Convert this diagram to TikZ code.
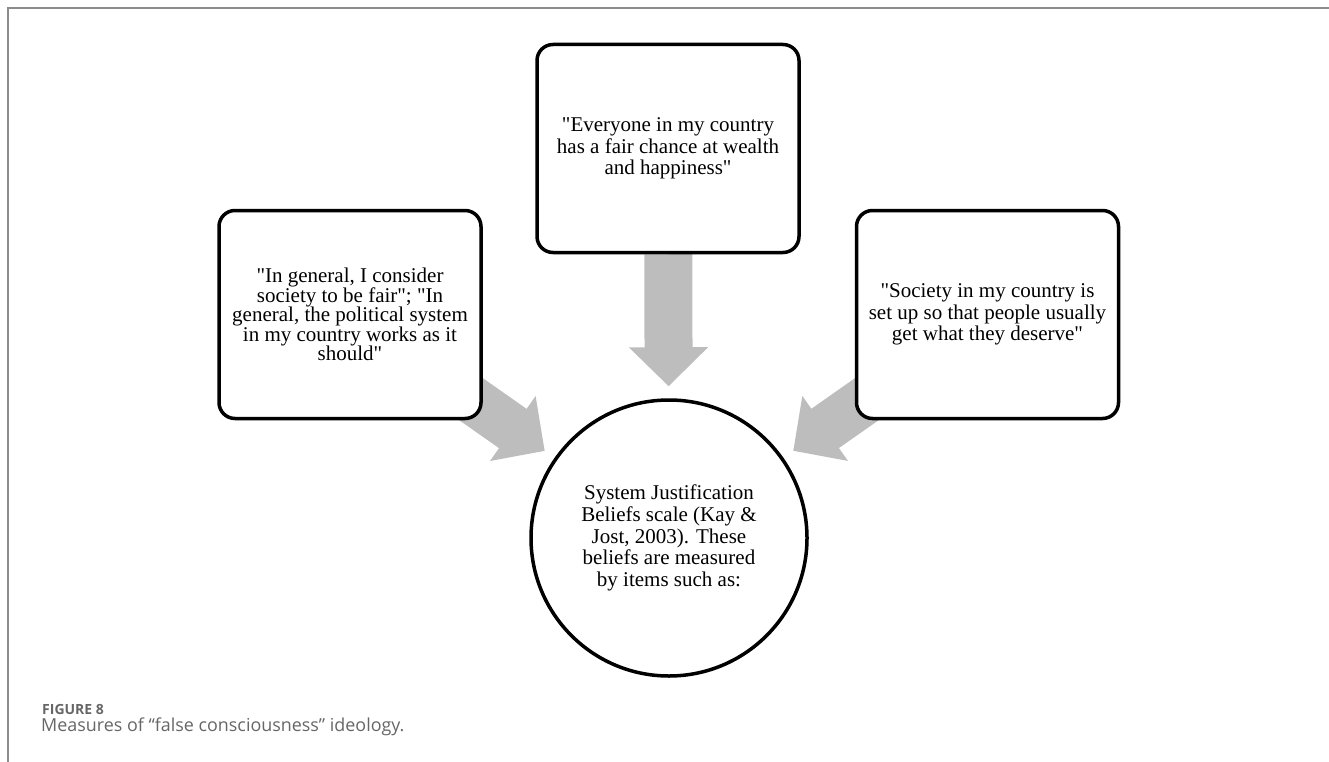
\documentclass[tikz,border=0pt]{standalone}
\usepackage{fontspec}
\setmainfont{Liberation Serif}[Ligatures=TeXOff]
\newfontfamily\capfont{Open Sans}
\usetikzlibrary{arrows.meta,backgrounds}
\definecolor{arrowgray}{RGB}{189,189,189}
\definecolor{framegray}{RGB}{140,140,140}
\definecolor{capgray}{RGB}{102,102,102}
\tikzset{
  itembox/.style={draw,fill=white,rounded corners=16pt,line width=3.5pt,minimum width=262pt,minimum height=208pt,align=center,font=\fontsize{21}{21.5}\selectfont},
  bigarrow/.style={arrowgray,line width=48pt,-{Triangle[length=39pt,width=77pt]},shorten >=12pt}
}
\begin{document}
\begin{tikzpicture}[x=1pt,y=-1pt]
\useasboundingbox (0,0) rectangle (1329,762);
\draw[framegray,line width=2pt] (8,762) -- (8,8) -- (1329,8);
\node[itembox,font=\fontsize{21}{19.5}\selectfont] (fair) at (350,314.5) {"In general, I consider\\society to be fair"; "In\\general, the political system\\in my country works as it\\should"};
\node[itembox] (chance) at (668,148.5) {"Everyone in my country\\has a fair chance at wealth\\and happiness"};
\node[itembox] (deserve) at (987.5,314.5) {"Society in my country is\\set up so that people usually\\get what they deserve"};
\node[draw,circle,fill=white,line width=3.5pt,minimum size=276pt,inner sep=0pt,align=center,font=\fontsize{21}{21.7}\selectfont] (sjb) at (669,538) {System Justification\\Beliefs scale (Kay \&\\Jost, 2003). These\\beliefs are measured\\by items such as:};
\begin{scope}[on background layer]
\draw[bigarrow,shorten <=-40pt] (fair) -- (sjb);
\draw[bigarrow] (chance) -- (sjb);
\draw[bigarrow,shorten <=-40pt] (deserve) -- (sjb);
\end{scope}
\node[anchor=base west,inner sep=0pt,text=capgray,font=\capfont\bfseries\fontsize{14}{16}\selectfont] (fignum) at (42,714) {FIGURE 8};
\node[anchor=base west,inner sep=0pt,text=capgray,font=\capfont\fontsize{17.9}{20}\selectfont] (caption) at (41,731) {Measures of “false consciousness” ideology.};
\end{tikzpicture}
\end{document}
